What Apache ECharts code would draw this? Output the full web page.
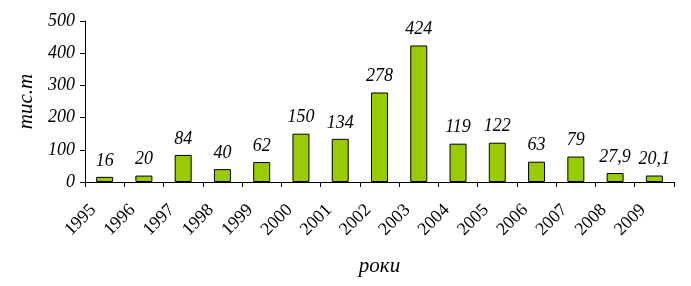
<!DOCTYPE html>
<html><head><meta charset="utf-8">
<script src="https://cdn.jsdelivr.net/npm/echarts@6/dist/echarts.min.js"></script>
<style>html,body{margin:0;padding:0;background:#fff}#c{width:691px;height:286px}</style>
</head><body><div id="c"></div>
<script>
var categories = ['1995','1996','1997','1998','1999','2000','2001','2002','2003','2004','2005','2006','2007','2008','2009'];
var values = [16,20,84,40,62,150,134,278,424,119,122,63,79,27.9,20.1];
var yTicks = [0,100,200,300,400,500];
var chart = echarts.init(document.getElementById('c'));
var serif = '"Liberation Serif", "DejaVu Serif", serif';
chart.setOption({
  animation:false,
  grid:{left:85,right:17,top:21,bottom:104},
  xAxis:{type:'category',data:categories,
    name:'роки',nameLocation:'middle',nameGap:74,
    nameTextStyle:{fontFamily:serif,fontStyle:'italic',fontSize:21,color:'#000'},
    axisLine:{lineStyle:{color:'#000',width:1}},
    axisTick:{show:true,length:5,lineStyle:{color:'#000'}},
    axisLabel:{rotate:45,interval:0,fontFamily:serif,fontSize:18,color:'#000',margin:14,padding:[0,16,0,0]}
  },
  yAxis:{type:'value',min:0,max:500,interval:100,
    name:'тис.т',nameLocation:'middle',nameGap:48,
    nameTextStyle:{fontFamily:serif,fontStyle:'italic',fontSize:21,color:'#000'},
    axisLine:{show:true,lineStyle:{color:'#000',width:1}},
    axisTick:{show:true,length:5,lineStyle:{color:'#000'}},
    splitLine:{show:false},
    axisLabel:{fontFamily:serif,fontStyle:'italic',fontSize:18,color:'#000',margin:10,
      formatter:function(v){return yTicks.indexOf(v)>=0?String(v):'';}}
  },
  series:[{type:'bar',data:values,barWidth:17,
    itemStyle:{color:'#99cc00',borderColor:'#000',borderWidth:1},
    label:{show:true,position:'top',distance:7,fontFamily:serif,fontStyle:'italic',fontSize:18,color:'#000',
      formatter:function(p){return String(p.value).replace('.',',');}}
  }]
});
</script></body></html>
